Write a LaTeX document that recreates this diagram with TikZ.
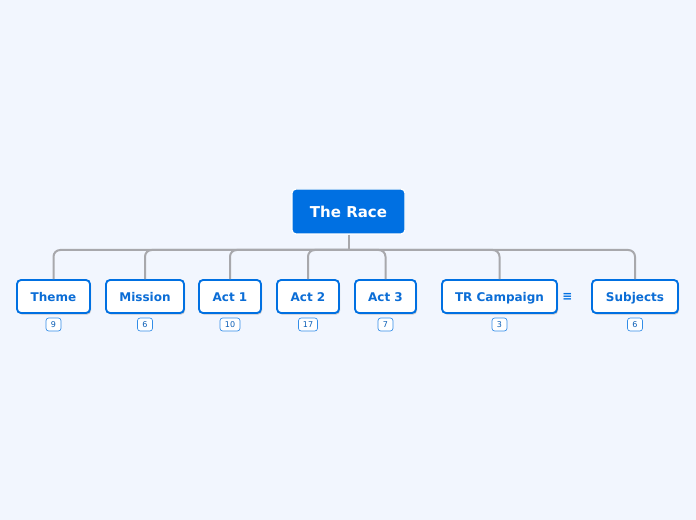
\documentclass[tikz,border=0pt]{standalone}
\usepackage{fontspec}
\setmainfont{DejaVu Sans}
\usetikzlibrary{shadows}
\definecolor{bg}{HTML}{F2F6FE}
\definecolor{mainblue}{HTML}{0070E2}
\definecolor{txtblue}{HTML}{0B6DD6}
\definecolor{conn}{HTML}{A8A8AC}
\begin{document}
\begin{tikzpicture}[x=0.75pt,y=-0.75pt,
  rootbox/.style={fill=mainblue,draw=white,line width=1pt,rounded corners=3pt,
    minimum height=45*0.75pt,inner sep=0pt,text=white,
    text height=0.95em,text depth=0pt,
    font=\fontsize{11.25pt}{13pt}\selectfont\bfseries},
  childbox/.style={fill=white,draw=mainblue,line width=1.4pt,rounded corners=3pt,
    minimum height=33*0.75pt,inner sep=0pt,text=txtblue,
    text height=0.8em,text depth=0pt,
    font=\fontsize{9pt}{11pt}\selectfont\bfseries,
    drop shadow={shadow xshift=0.8pt,shadow yshift=-1.2pt,fill=black!40,opacity=0.5}},
  badge/.style={fill=white,draw=mainblue!80,line width=0.5pt,rounded corners=2pt,
    minimum height=13*0.75pt,inner sep=0pt,text=txtblue!85!black,
    font=\fontsize{6pt}{7pt}\selectfont},
  connline/.style={draw=conn,line width=1.5pt},
]
\fill[bg] (0,0) rectangle (696,520);
\useasboundingbox (0,0) rectangle (696,520);

\node[rootbox,minimum width=113*0.75pt] (root) at (348.5,211.5) {The Race};

\node[childbox,minimum width=73*0.75pt] (c1) at (53.5,296.5) {Theme};
\node[childbox,minimum width=78*0.75pt] (c2) at (145,296.5) {Mission};
\node[childbox,minimum width=62*0.75pt] (c3) at (230,296.5) {Act 1};
\node[childbox,minimum width=62*0.75pt] (c4) at (308,296.5) {Act 2};
\node[childbox,minimum width=61*0.75pt] (c5) at (385.5,296.5) {Act 3};
\node[childbox,minimum width=115*0.75pt] (c6) at (499.5,296.5) {TR Campaign};
\node[childbox,minimum width=86*0.75pt] (c7) at (635,296.5) {Subjects};

\node[text=mainblue,font=\fontsize{9pt}{10pt}\selectfont\bfseries] (note) at (567.5,297) {≡};

\node[badge,minimum width=15*0.75pt] (b1) at (53.5,324.5) {9};
\node[badge,minimum width=15*0.75pt] (b2) at (145,324.5) {6};
\node[badge,minimum width=20*0.75pt] (b3) at (230,324.5) {10};
\node[badge,minimum width=19*0.75pt] (b4) at (308,324.5) {17};
\node[badge,minimum width=15*0.75pt] (b5) at (385.5,324.5) {7};
\node[badge,minimum width=15*0.75pt] (b6) at (499.5,324.5) {3};
\node[badge,minimum width=15*0.75pt] (b7) at (635,324.5) {6};

\coordinate (j) at (root.south |- 0,250);
\draw[connline] (root.south) -- (j);
\foreach \c in {c1,c2,c3,c4,c5,c6,c7}{
  \draw[connline,rounded corners=5pt] (j) -| (\c.north);
}
\end{tikzpicture}
\end{document}
